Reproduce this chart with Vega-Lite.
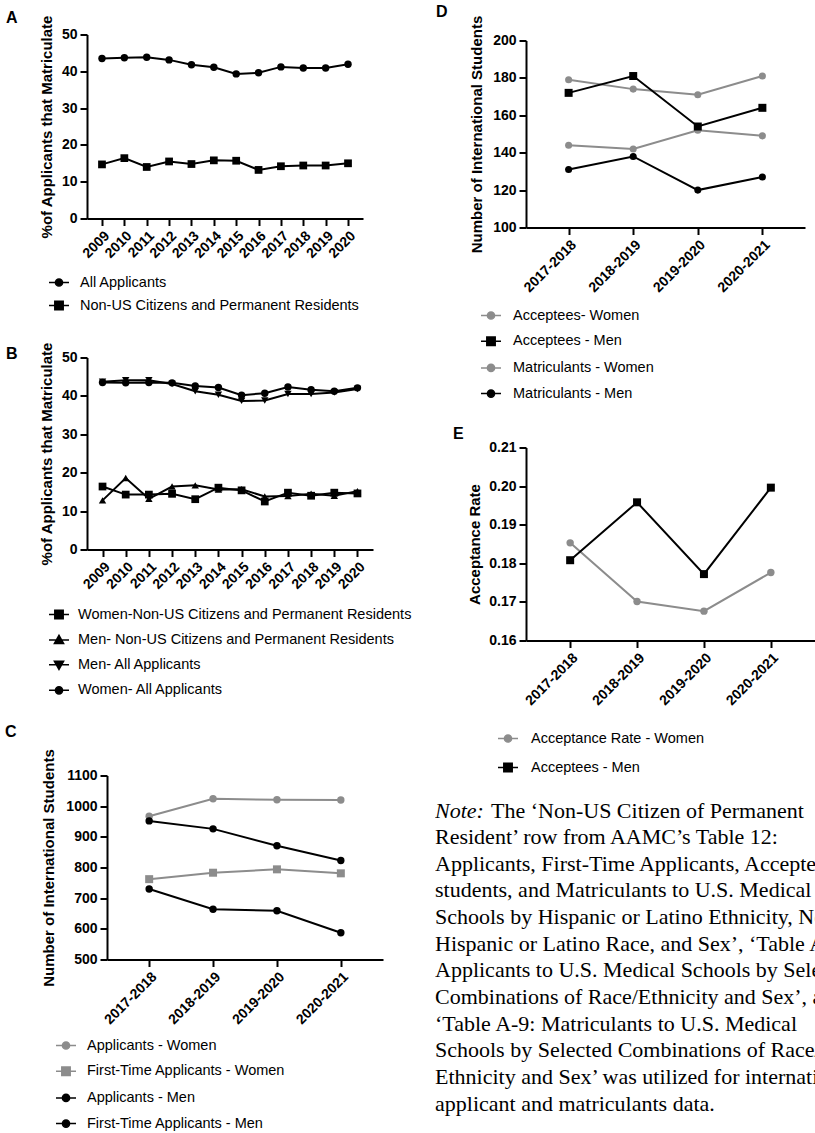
{
  "$schema": "https://vega.github.io/schema/vega-lite/v6.json",
  "background": "white",
  "padding": {"left": 5, "top": 3.5, "right": 0, "bottom": 0},
  "columns": 2,
  "align": "each",
  "bounds": "flush",
  "spacing": {"row": 0, "column": 0},
  "resolve": {"scale": {"color": "independent"}},
  "config": {
    "font": "Liberation Sans",
    "view": {"stroke": null},
    "axis": {"grid": false, "labelFont": "Liberation Sans", "labelFontWeight": "bold", "labelFontSize": 14, "labelColor": "#000", "titleFont": "Liberation Sans", "titleFontWeight": "bold", "titleFontSize": 15, "titleColor": "#000", "domainColor": "#000", "domainWidth": 2, "tickColor": "#000", "tickWidth": 2, "tickSize": 7, "labelPadding": 3},
    "legend": {"labelFont": "Liberation Sans", "labelFontSize": 14.5, "labelColor": "#000", "labelLimit": 600, "padding": 0, "symbolSize": 400, "symbolStrokeWidth": 1.5},
    "title": {"fontSize": 16, "fontWeight": "bold", "anchor": "start", "frame": "group", "color": "#000", "font": "Liberation Sans"}
  },
  "concat": [
    {
      "width": 348, "height": 193,
      "title": {"text": "A", "dx": -81, "offset": -11},
      "data": {"values": [
        {"year": "2009", "series": "All Applicants", "value": 43.5},
        {"year": "2010", "series": "All Applicants", "value": 43.7},
        {"year": "2011", "series": "All Applicants", "value": 43.8},
        {"year": "2012", "series": "All Applicants", "value": 43.1},
        {"year": "2013", "series": "All Applicants", "value": 41.8},
        {"year": "2014", "series": "All Applicants", "value": 41.1},
        {"year": "2015", "series": "All Applicants", "value": 39.3},
        {"year": "2016", "series": "All Applicants", "value": 39.6},
        {"year": "2017", "series": "All Applicants", "value": 41.2},
        {"year": "2018", "series": "All Applicants", "value": 40.9},
        {"year": "2019", "series": "All Applicants", "value": 40.9},
        {"year": "2020", "series": "All Applicants", "value": 41.9},
        {"year": "2009", "series": "Non-US Citizens and Permanent Residents", "value": 14.7},
        {"year": "2010", "series": "Non-US Citizens and Permanent Residents", "value": 16.4},
        {"year": "2011", "series": "Non-US Citizens and Permanent Residents", "value": 14.0},
        {"year": "2012", "series": "Non-US Citizens and Permanent Residents", "value": 15.5},
        {"year": "2013", "series": "Non-US Citizens and Permanent Residents", "value": 14.8},
        {"year": "2014", "series": "Non-US Citizens and Permanent Residents", "value": 15.8},
        {"year": "2015", "series": "Non-US Citizens and Permanent Residents", "value": 15.7},
        {"year": "2016", "series": "Non-US Citizens and Permanent Residents", "value": 13.2},
        {"year": "2017", "series": "Non-US Citizens and Permanent Residents", "value": 14.2},
        {"year": "2018", "series": "Non-US Citizens and Permanent Residents", "value": 14.4},
        {"year": "2019", "series": "Non-US Citizens and Permanent Residents", "value": 14.4},
        {"year": "2020", "series": "Non-US Citizens and Permanent Residents", "value": 15.0}
      ]},
      "encoding": {
        "x": {"field": "year", "type": "ordinal", "scale": {"type": "point", "padding": 0.67, "range": [0, 276]}, "axis": {"title": null, "labelAngle": -45, "offset": -9}},
        "y": {"field": "value", "type": "quantitative", "scale": {"domain": [0, 50], "nice": false, "range": [184, 0]}, "axis": {"values": [0, 10, 20, 30, 40, 50], "title": "%of Applicants that Matriculate", "titlePadding": 7}},
        "color": {"field": "series", "type": "nominal", "scale": {"domain": ["All Applicants", "Non-US Citizens and Permanent Residents"], "range": ["#000000", "#000000"]},
          "legend": {"title": null, "orient": "none", "legendX": -39, "legendY": 237, "rowPadding": 5, "labelOffset": 10,
            "encode": {"symbols": {"update": {
              "shape": [{"test": "datum.value === 'Non-US Citizens and Permanent Residents'", "value": "M-1,0L1,0M-0.42,-0.42L0.42,-0.42L0.42,0.42L-0.42,0.42Z"}, {"value": "M-1,0L1,0M0.36,0A0.36,0.36,0,1,1,-0.36,0A0.36,0.36,0,1,1,0.36,0Z"}]}}}}}
      },
      "layer": [
        {"mark": {"type": "line", "strokeWidth": 2}},
        {"transform": [{"filter": "datum.series === 'All Applicants'"}], "mark": {"type": "point", "shape": "circle", "filled": true, "opacity": 1, "size": 55}},
        {"transform": [{"filter": "datum.series === 'Non-US Citizens and Permanent Residents'"}], "mark": {"type": "point", "shape": "square", "filled": true, "opacity": 1, "size": 60}}
      ]
    },
    {
      "width": 380, "height": 193,
      "title": {"text": "D", "dx": 1, "offset": -5},
      "data": {"values": [
        {"year": "2017-2018", "series": "Acceptees- Women", "value": 179},
        {"year": "2018-2019", "series": "Acceptees- Women", "value": 174},
        {"year": "2019-2020", "series": "Acceptees- Women", "value": 171},
        {"year": "2020-2021", "series": "Acceptees- Women", "value": 181},
        {"year": "2017-2018", "series": "Acceptees - Men", "value": 172},
        {"year": "2018-2019", "series": "Acceptees - Men", "value": 181},
        {"year": "2019-2020", "series": "Acceptees - Men", "value": 154},
        {"year": "2020-2021", "series": "Acceptees - Men", "value": 164},
        {"year": "2017-2018", "series": "Matriculants - Women", "value": 144},
        {"year": "2018-2019", "series": "Matriculants - Women", "value": 142},
        {"year": "2019-2020", "series": "Matriculants - Women", "value": 152},
        {"year": "2020-2021", "series": "Matriculants - Women", "value": 149},
        {"year": "2017-2018", "series": "Matriculants - Men", "value": 131},
        {"year": "2018-2019", "series": "Matriculants - Men", "value": 138},
        {"year": "2019-2020", "series": "Matriculants - Men", "value": 120},
        {"year": "2020-2021", "series": "Matriculants - Men", "value": 127}
      ]},
      "encoding": {
        "x": {"field": "year", "type": "ordinal", "scale": {"type": "point", "padding": 0.66, "range": [91, 370]}, "axis": {"title": null, "labelAngle": -45}},
        "y": {"field": "value", "type": "quantitative", "scale": {"domain": [100, 200], "nice": false, "range": [193, 6]}, "axis": {"values": [100, 120, 140, 160, 180, 200], "title": "Number of International Students", "titlePadding": 8, "offset": -91}},
        "color": {"field": "series", "type": "nominal", "scale": {"domain": ["Acceptees- Women", "Acceptees - Men", "Matriculants - Women", "Matriculants - Men"], "range": ["#8c8c8c", "#000000", "#8c8c8c", "#000000"]},
          "legend": {"title": null, "orient": "none", "legendX": 45, "legendY": 270, "rowPadding": 7.7, "labelOffset": 11,
            "encode": {"symbols": {"update": {
              "shape": [{"test": "datum.value === 'Acceptees - Men'", "value": "M-1,0L1,0M-0.42,-0.42L0.42,-0.42L0.42,0.42L-0.42,0.42Z"}, {"value": "M-1,0L1,0M0.36,0A0.36,0.36,0,1,1,-0.36,0A0.36,0.36,0,1,1,0.36,0Z"}]}}}}}
      },
      "layer": [
        {"mark": {"type": "line", "strokeWidth": 2}},
        {"transform": [{"filter": "datum.series !== 'Acceptees - Men'"}], "mark": {"type": "point", "shape": "circle", "filled": true, "opacity": 1, "size": 50}},
        {"transform": [{"filter": "datum.series === 'Acceptees - Men'"}], "mark": {"type": "point", "shape": "square", "filled": true, "opacity": 1, "size": 64}}
      ]
    },
    {
      "width": 348, "height": 413,
      "title": {"text": "B", "dx": -81, "offset": -134},
      "data": {"values": [
        {"year": "2009", "series": "Women-Non-US Citizens and Permanent Residents", "value": 16.4},
        {"year": "2010", "series": "Women-Non-US Citizens and Permanent Residents", "value": 14.3},
        {"year": "2011", "series": "Women-Non-US Citizens and Permanent Residents", "value": 14.3},
        {"year": "2012", "series": "Women-Non-US Citizens and Permanent Residents", "value": 14.5},
        {"year": "2013", "series": "Women-Non-US Citizens and Permanent Residents", "value": 13.1},
        {"year": "2014", "series": "Women-Non-US Citizens and Permanent Residents", "value": 16.1},
        {"year": "2015", "series": "Women-Non-US Citizens and Permanent Residents", "value": 15.4},
        {"year": "2016", "series": "Women-Non-US Citizens and Permanent Residents", "value": 12.5},
        {"year": "2017", "series": "Women-Non-US Citizens and Permanent Residents", "value": 14.8},
        {"year": "2018", "series": "Women-Non-US Citizens and Permanent Residents", "value": 14.0},
        {"year": "2019", "series": "Women-Non-US Citizens and Permanent Residents", "value": 14.8},
        {"year": "2020", "series": "Women-Non-US Citizens and Permanent Residents", "value": 14.6},
        {"year": "2009", "series": "Men- Non-US Citizens and Permanent Residents", "value": 12.8},
        {"year": "2010", "series": "Men- Non-US Citizens and Permanent Residents", "value": 18.6},
        {"year": "2011", "series": "Men- Non-US Citizens and Permanent Residents", "value": 13.2},
        {"year": "2012", "series": "Men- Non-US Citizens and Permanent Residents", "value": 16.4},
        {"year": "2013", "series": "Men- Non-US Citizens and Permanent Residents", "value": 16.7},
        {"year": "2014", "series": "Men- Non-US Citizens and Permanent Residents", "value": 15.6},
        {"year": "2015", "series": "Men- Non-US Citizens and Permanent Residents", "value": 15.7},
        {"year": "2016", "series": "Men- Non-US Citizens and Permanent Residents", "value": 13.8},
        {"year": "2017", "series": "Men- Non-US Citizens and Permanent Residents", "value": 13.9},
        {"year": "2018", "series": "Men- Non-US Citizens and Permanent Residents", "value": 14.5},
        {"year": "2019", "series": "Men- Non-US Citizens and Permanent Residents", "value": 14.0},
        {"year": "2020", "series": "Men- Non-US Citizens and Permanent Residents", "value": 15.2},
        {"year": "2009", "series": "Men- All Applicants", "value": 43.7},
        {"year": "2010", "series": "Men- All Applicants", "value": 44.1},
        {"year": "2011", "series": "Men- All Applicants", "value": 44.1},
        {"year": "2012", "series": "Men- All Applicants", "value": 43.1},
        {"year": "2013", "series": "Men- All Applicants", "value": 41.2},
        {"year": "2014", "series": "Men- All Applicants", "value": 40.3},
        {"year": "2015", "series": "Men- All Applicants", "value": 38.7},
        {"year": "2016", "series": "Men- All Applicants", "value": 38.8},
        {"year": "2017", "series": "Men- All Applicants", "value": 40.5},
        {"year": "2018", "series": "Men- All Applicants", "value": 40.5},
        {"year": "2019", "series": "Men- All Applicants", "value": 40.9},
        {"year": "2020", "series": "Men- All Applicants", "value": 41.8},
        {"year": "2009", "series": "Women- All Applicants", "value": 43.5},
        {"year": "2010", "series": "Women- All Applicants", "value": 43.4},
        {"year": "2011", "series": "Women- All Applicants", "value": 43.5},
        {"year": "2012", "series": "Women- All Applicants", "value": 43.4},
        {"year": "2013", "series": "Women- All Applicants", "value": 42.6},
        {"year": "2014", "series": "Women- All Applicants", "value": 42.2},
        {"year": "2015", "series": "Women- All Applicants", "value": 40.2},
        {"year": "2016", "series": "Women- All Applicants", "value": 40.7},
        {"year": "2017", "series": "Women- All Applicants", "value": 42.3},
        {"year": "2018", "series": "Women- All Applicants", "value": 41.6},
        {"year": "2019", "series": "Women- All Applicants", "value": 41.2},
        {"year": "2020", "series": "Women- All Applicants", "value": 42.1}
      ]},
      "encoding": {
        "x": {"field": "year", "type": "ordinal", "scale": {"type": "point", "padding": 0.67, "range": [0, 286]}, "axis": {"title": null, "labelAngle": -45, "offset": -91}},
        "y": {"field": "value", "type": "quantitative", "scale": {"domain": [0, 50], "nice": false, "range": [322, 130]}, "axis": {"values": [0, 10, 20, 30, 40, 50], "title": "%of Applicants that Matriculate", "titlePadding": 7}},
        "color": {"field": "series", "type": "nominal", "scale": {"domain": ["Women-Non-US Citizens and Permanent Residents", "Men- Non-US Citizens and Permanent Residents", "Men- All Applicants", "Women- All Applicants"], "range": ["#000000", "#000000", "#000000", "#000000"]},
          "legend": {"title": null, "orient": "none", "legendX": -39, "legendY": 376, "rowPadding": 6.6, "labelOffset": 8,
            "encode": {"symbols": {"update": {
              "shape": [
                {"test": "datum.value === 'Women-Non-US Citizens and Permanent Residents'", "value": "M-1,0L1,0M-0.42,-0.42L0.42,-0.42L0.42,0.42L-0.42,0.42Z"},
                {"test": "datum.value === 'Men- Non-US Citizens and Permanent Residents'", "value": "M-1,0L1,0M0,-0.48L0.46,0.34L-0.46,0.34Z"},
                {"test": "datum.value === 'Men- All Applicants'", "value": "M-1,0L1,0M0,0.48L0.46,-0.34L-0.46,-0.34Z"},
                {"value": "M-1,0L1,0M0.36,0A0.36,0.36,0,1,1,-0.36,0A0.36,0.36,0,1,1,0.36,0Z"}]}}}}}
      },
      "layer": [
        {"mark": {"type": "line", "strokeWidth": 2}},
        {"transform": [{"filter": "datum.series === 'Women-Non-US Citizens and Permanent Residents'"}], "mark": {"type": "point", "shape": "square", "filled": true, "opacity": 1, "size": 60}},
        {"transform": [{"filter": "datum.series === 'Men- Non-US Citizens and Permanent Residents'"}], "mark": {"type": "point", "shape": "triangle-up", "filled": true, "opacity": 1, "size": 55}},
        {"transform": [{"filter": "datum.series === 'Men- All Applicants'"}], "mark": {"type": "point", "shape": "triangle-down", "filled": true, "opacity": 1, "size": 55}},
        {"transform": [{"filter": "datum.series === 'Women- All Applicants'"}], "mark": {"type": "point", "shape": "circle", "filled": true, "opacity": 1, "size": 55}}
      ]
    },
    {
      "width": 380, "height": 413,
      "title": {"text": "E", "dx": 18, "offset": -214},
      "data": {"values": [
        {"year": "2017-2018", "series": "Acceptance Rate - Women", "value": 0.1853},
        {"year": "2018-2019", "series": "Acceptance Rate - Women", "value": 0.1701},
        {"year": "2019-2020", "series": "Acceptance Rate - Women", "value": 0.1676},
        {"year": "2020-2021", "series": "Acceptance Rate - Women", "value": 0.1776},
        {"year": "2017-2018", "series": "Acceptees - Men", "value": 0.1808},
        {"year": "2018-2019", "series": "Acceptees - Men", "value": 0.1958},
        {"year": "2019-2020", "series": "Acceptees - Men", "value": 0.1772},
        {"year": "2020-2021", "series": "Acceptees - Men", "value": 0.1996}
      ]},
      "encoding": {
        "x": {"field": "year", "type": "ordinal", "scale": {"type": "point", "padding": 0.66, "range": [91, 380]}, "axis": {"title": null, "labelAngle": -45}},
        "y": {"field": "value", "type": "quantitative", "scale": {"domain": [0.16, 0.21], "nice": false, "range": [413, 220]}, "axis": {"values": [0.16, 0.17, 0.18, 0.19, 0.2, 0.21], "format": ".2f", "title": "Acceptance Rate", "titlePadding": 6, "offset": -91}},
        "color": {"field": "series", "type": "nominal", "scale": {"domain": ["Acceptance Rate - Women", "Acceptees - Men"], "range": ["#8c8c8c", "#000000"]},
          "legend": {"title": null, "orient": "none", "legendX": 62, "legendY": 500, "rowPadding": 11, "labelOffset": 12,
            "encode": {"symbols": {"update": {
              "shape": [{"test": "datum.value === 'Acceptees - Men'", "value": "M-1,0L1,0M-0.42,-0.42L0.42,-0.42L0.42,0.42L-0.42,0.42Z"}, {"value": "M-1,0L1,0M0.36,0A0.36,0.36,0,1,1,-0.36,0A0.36,0.36,0,1,1,0.36,0Z"}]}}}}}
      },
      "layer": [
        {"mark": {"type": "line", "strokeWidth": 2}},
        {"transform": [{"filter": "datum.series === 'Acceptance Rate - Women'"}], "mark": {"type": "point", "shape": "circle", "filled": true, "opacity": 1, "size": 55}},
        {"transform": [{"filter": "datum.series === 'Acceptees - Men'"}], "mark": {"type": "point", "shape": "square", "filled": true, "opacity": 1, "size": 64}}
      ]
    },
    {
      "width": 348, "height": 319,
      "title": {"text": "C", "dx": -82, "offset": -99},
      "data": {"values": [
        {"year": "2017-2018", "series": "Applicants - Women", "value": 967},
        {"year": "2018-2019", "series": "Applicants - Women", "value": 1024},
        {"year": "2019-2020", "series": "Applicants - Women", "value": 1021},
        {"year": "2020-2021", "series": "Applicants - Women", "value": 1020},
        {"year": "2017-2018", "series": "First-Time Applicants - Women", "value": 762},
        {"year": "2018-2019", "series": "First-Time Applicants - Women", "value": 783},
        {"year": "2019-2020", "series": "First-Time Applicants - Women", "value": 794},
        {"year": "2020-2021", "series": "First-Time Applicants - Women", "value": 781},
        {"year": "2017-2018", "series": "Applicants - Men", "value": 952},
        {"year": "2018-2019", "series": "Applicants - Men", "value": 926},
        {"year": "2019-2020", "series": "Applicants - Men", "value": 871},
        {"year": "2020-2021", "series": "Applicants - Men", "value": 823},
        {"year": "2017-2018", "series": "First-Time Applicants - Men", "value": 730},
        {"year": "2018-2019", "series": "First-Time Applicants - Men", "value": 664},
        {"year": "2019-2020", "series": "First-Time Applicants - Men", "value": 659},
        {"year": "2020-2021", "series": "First-Time Applicants - Men", "value": 587}
      ]},
      "encoding": {
        "x": {"field": "year", "type": "ordinal", "scale": {"type": "point", "padding": 0.66, "range": [20, 296]}, "axis": {"title": null, "labelAngle": -45}},
        "y": {"field": "value", "type": "quantitative", "scale": {"domain": [500, 1100], "nice": false, "range": [319, 135]}, "axis": {"values": [500, 600, 700, 800, 900, 1000, 1100], "format": "d", "title": "Number of International Students", "titlePadding": 9, "offset": -20}},
        "color": {"field": "series", "type": "nominal", "scale": {"domain": ["Applicants - Women", "First-Time Applicants - Women", "Applicants - Men", "First-Time Applicants - Men"], "range": ["#8c8c8c", "#8c8c8c", "#000000", "#000000"]},
          "legend": {"title": null, "orient": "none", "legendX": -32, "legendY": 394, "rowPadding": 7.7, "labelOffset": 10,
            "encode": {"symbols": {"update": {
              "shape": [{"test": "datum.value === 'First-Time Applicants - Women'", "value": "M-1,0L1,0M-0.42,-0.42L0.42,-0.42L0.42,0.42L-0.42,0.42Z"}, {"value": "M-1,0L1,0M0.36,0A0.36,0.36,0,1,1,-0.36,0A0.36,0.36,0,1,1,0.36,0Z"}]}}}}}
      },
      "layer": [
        {"mark": {"type": "line", "strokeWidth": 2}},
        {"transform": [{"filter": "datum.series !== 'First-Time Applicants - Women'"}], "mark": {"type": "point", "shape": "circle", "filled": true, "opacity": 1, "size": 55}},
        {"transform": [{"filter": "datum.series === 'First-Time Applicants - Women'"}], "mark": {"type": "point", "shape": "square", "filled": true, "opacity": 1, "size": 64}}
      ]
    },
    {
      "width": 380, "height": 480,
      "data": {"values": [
        {"line": 1, "part": "note", "text": "Note:"},
        {"line": 1, "part": "first", "text": "The ‘Non-US Citizen of Permanent"},
        {"line": 2, "part": "body", "text": "Resident’ row from AAMC’s Table 12:"},
        {"line": 3, "part": "body", "text": "Applicants, First-Time Applicants, Accepted"},
        {"line": 4, "part": "body", "text": "students, and Matriculants to U.S. Medical"},
        {"line": 5, "part": "body", "text": "Schools by Hispanic or Latino Ethnicity, Non-"},
        {"line": 6, "part": "body", "text": "Hispanic or Latino Race, and Sex’, ‘Table A-8:"},
        {"line": 7, "part": "body", "text": "Applicants to U.S. Medical Schools by Selected"},
        {"line": 8, "part": "body", "text": "Combinations of Race/Ethnicity and Sex’, and"},
        {"line": 9, "part": "body", "text": "‘Table A-9: Matriculants to U.S. Medical"},
        {"line": 10, "part": "body", "text": "Schools by Selected Combinations of Race/"},
        {"line": 11, "part": "body", "text": "Ethnicity and Sex’ was utilized for international"},
        {"line": 12, "part": "body", "text": "applicant and matriculants data."}
      ]},
      "encoding": {
        "x": {"datum": 0, "type": "quantitative", "scale": {"domain": [0, 1], "range": [0, 380]}, "axis": null},
        "y": {"field": "line", "type": "quantitative", "scale": {"domain": [1, 12], "range": [170, 463]}, "axis": null},
        "text": {"field": "text", "type": "nominal"}
      },
      "layer": [
        {"transform": [{"filter": "datum.part === 'note'"}],
         "mark": {"type": "text", "align": "left", "baseline": "middle", "font": "Liberation Serif", "fontSize": 22, "fontStyle": "italic", "color": "#000", "clip": true}},
        {"transform": [{"filter": "datum.part === 'first'"}],
         "mark": {"type": "text", "align": "left", "baseline": "middle", "font": "Liberation Serif", "fontSize": 22, "dx": 56, "color": "#000", "clip": true}},
        {"transform": [{"filter": "datum.part === 'body'"}],
         "mark": {"type": "text", "align": "left", "baseline": "middle", "font": "Liberation Serif", "fontSize": 22, "color": "#000", "clip": true}}
      ]
    }
  ]
}
